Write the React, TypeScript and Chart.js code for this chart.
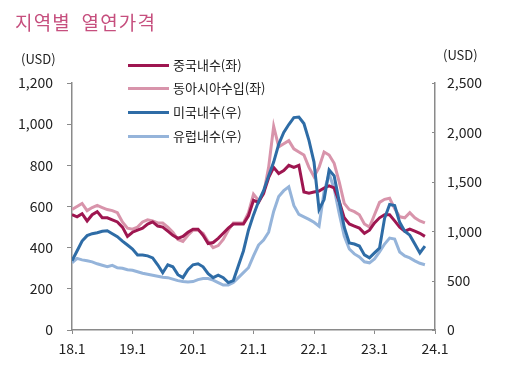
import React, { useEffect, useRef } from "react";
import { Chart, registerables } from "chart.js";

Chart.register(...registerables);

const xTickLabels = ["18.1", "19.1", "20.1", "21.1", "22.1", "23.1", "24.1"];

// monthly points from 18.1 (index 0)
const chinaDomestic = [
  560, 550, 565, 530, 560, 575, 545, 545, 535, 525,
  500, 455, 475, 485, 495, 515, 525, 505, 500, 480,
  460, 445, 455, 475, 490, 490, 460, 420, 425, 445,
  470, 495, 515, 515, 515, 555, 630, 620, 665, 740,
  790, 760, 775, 800, 790, 800, 670, 665, 670, 675,
  690, 700, 690, 625, 545, 515, 505, 495, 470, 485,
  520, 545, 560, 560, 530, 500, 480, 490, 480, 470,
  455,
];
const eastAsiaImport = [
  585, 600, 615, 580, 595, 605, 595, 585, 580, 570,
  525, 495, 490, 500, 525, 535, 530, 520, 520, 500,
  475, 440, 430, 460, 485, 485, 470, 430, 400, 410,
  440, 485, 520, 520, 520, 570, 660, 630, 660, 790,
  990, 890, 905, 920, 880, 865, 850, 790, 745, 790,
  865, 850, 810, 720, 615, 585, 575, 560, 515, 500,
  560, 620, 635, 640, 590, 550, 545, 570, 545, 530,
  520,
];
const usDomestic = [
  700, 800, 900, 955, 975, 985, 1000, 1005, 975, 945,
  900, 860, 820, 760, 760, 750, 730, 660, 580, 660,
  640, 560, 530, 610, 660, 670, 640, 570, 530, 555,
  530, 480, 500, 650, 800, 1010, 1165, 1300, 1410, 1560,
  1700, 1880, 2000, 2080, 2150, 2155, 2090, 1920, 1700, 1220,
  1320, 1620, 1560, 1300, 1040, 880, 870, 850, 760, 730,
  780, 830, 1130, 1270, 1260, 1090, 1000, 960, 870, 780,
  850,
];
const euDomestic = [
  680, 725, 710, 700, 690, 670, 655, 640, 655, 630,
  625, 610, 605, 590, 575, 565, 555, 545, 535, 530,
  515, 500, 490, 485, 490, 510, 520, 520, 505, 480,
  455, 455, 480, 530, 580, 630, 750, 860, 910, 990,
  1200, 1350, 1410, 1450, 1260, 1170, 1145, 1120, 1090, 1050,
  1400, 1580, 1430, 1180, 950, 820, 770, 740, 690, 680,
  720, 790, 870, 930, 920, 790, 750, 730, 700, 675,
  660,
];

const seriesNames = ["중국내수(좌)", "동아시아수입(좌)", "미국내수(우)", "유럽내수(우)"];
const seriesColors = ["#9e1650", "#d894ab", "#2e6ca6", "#95b4da"];

const FONT = '"Noto Sans CJK KR", "Noto Sans", sans-serif';
const AXIS = "#8a8a8a";

const toXY = (arr: number[]) => arr.map((v, i) => ({ x: i, y: v }));

const innerTicks = {
  id: "innerTicks",
  afterDraw(chart: any) {
    const s = chart.scales.y2;
    if (!s) return;
    const ctx = chart.ctx;
    ctx.save();
    ctx.strokeStyle = AXIS;
    ctx.lineWidth = 1;
    s.ticks.forEach((t: any) => {
      const y = Math.round(s.getPixelForValue(t.value)) + 0.5;
      ctx.beginPath();
      ctx.moveTo(s.left - 3, y);
      ctx.lineTo(s.left, y);
      ctx.stroke();
    });
    ctx.restore();
  },
};

export default function App() {
  const ref = useRef<HTMLCanvasElement>(null);
  useEffect(() => {
    if (!ref.current) return;
    const data = [chinaDomestic, eastAsiaImport, usDomestic, euDomestic];
    const axisFor = ["y", "y", "y2", "y2"];
    const orders = [1, 2, 0, 3];
    const chart = new Chart(ref.current, {
      type: "line",
      data: {
        datasets: data.map((d, i) => ({
          label: seriesNames[i],
          data: toXY(d),
          borderColor: seriesColors[i],
          backgroundColor: seriesColors[i],
          borderWidth: 3,
          pointRadius: 0,
          tension: 0,
          yAxisID: axisFor[i],
          order: orders[i],
        })),
      },
      plugins: [innerTicks],
      options: {
        responsive: false,
        animation: false,
        layout: { padding: { left: 0, right: 0, top: 83, bottom: 0 } },
        plugins: { legend: { display: false }, tooltip: { enabled: false }, title: { display: false } },
        scales: {
          x: {
            type: "linear",
            min: 0,
            max: 72,
            afterFit: (s: any) => { s.height = 39; },
            afterBuildTicks: (s: any) => {
              s.ticks = xTickLabels.map((_, i) => ({ value: i * 12 }));
            },
            ticks: {
              autoSkip: false,
              maxRotation: 0,
              padding: 6,
              color: "#222",
              font: { family: FONT, size: 14 },
              callback: (v: any) => xTickLabels[Math.round(Number(v) / 12)] ?? "",
            },
            grid: { drawOnChartArea: false, drawTicks: true, tickLength: 4, color: AXIS },
            border: { display: true, color: AXIS, width: 1.5 },
          },
          y: {
            type: "linear",
            position: "left",
            min: 0,
            max: 1200,
            afterFit: (s: any) => { s.width = 72; },
            ticks: {
              stepSize: 200,
              padding: 14,
              color: "#222",
              font: { family: FONT, size: 14 },
              callback: (v: any) => Number(v).toLocaleString("en-US"),
            },
            grid: { drawOnChartArea: false, drawTicks: true, tickLength: 5, color: AXIS },
            border: { display: true, color: AXIS, width: 1.5 },
          },
          y2: {
            type: "linear",
            position: "right",
            min: 0,
            max: 2500,
            afterFit: (s: any) => { s.width = 71; },
            ticks: {
              stepSize: 500,
              padding: 12,
              color: "#222",
              font: { family: FONT, size: 14 },
              callback: (v: any) => Number(v).toLocaleString("en-US"),
            },
            grid: { drawOnChartArea: false, drawTicks: false, color: AXIS },
            border: { display: true, color: AXIS, width: 1.5 },
          },
        },
      },
    });
    return () => chart.destroy();
  }, []);

  const legendTops = [65, 88, 112, 136];

  return (
    <div style={{ position: "absolute", left: 0, top: 0, width: 506, height: 369, background: "#fff", fontFamily: FONT }}>
      <canvas ref={ref} width={506} height={369} style={{ position: "absolute", left: 0, top: 0 }} />
      <div style={{ position: "absolute", left: 15, top: 12, fontSize: 19, lineHeight: "20px", letterSpacing: "1.2px", wordSpacing: "5px", color: "#c64f7e", whiteSpace: "nowrap" }}>
        지역별 열연가격
      </div>
      <div style={{ position: "absolute", left: 21, top: 51, fontSize: 13, lineHeight: "16px", color: "#222" }}>(USD)</div>
      <div style={{ position: "absolute", left: 443, top: 47, fontSize: 13, lineHeight: "16px", color: "#222" }}>(USD)</div>
      {seriesNames.map((n, i) => (
        <div key={n} style={{ position: "absolute", left: 128, top: legendTops[i] - 9, height: 18, display: "flex", alignItems: "center", whiteSpace: "nowrap" }}>
          <div style={{ width: 41, height: 3, background: seriesColors[i], marginRight: 4 }} />
          <span style={{ fontSize: 13, lineHeight: "18px", color: "#222" }}>{n}</span>
        </div>
      ))}
    </div>
  );
}
